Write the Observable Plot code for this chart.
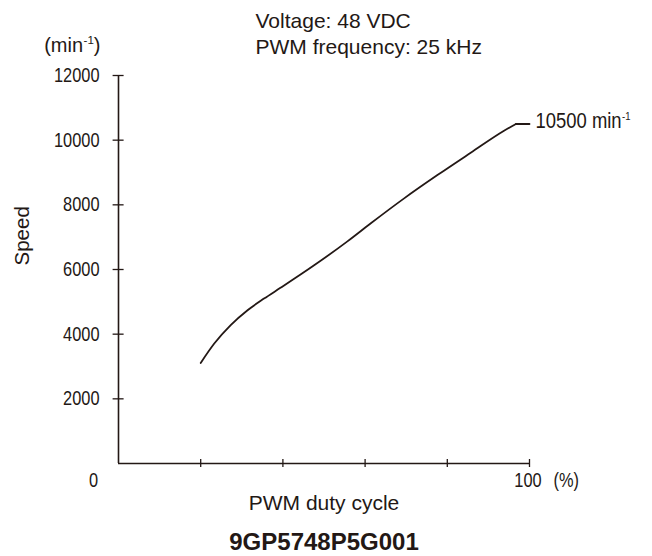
<!DOCTYPE html>
<html><head><meta charset="utf-8">
<script src="https://cdn.jsdelivr.net/npm/d3@7"></script>
<script src="https://cdn.jsdelivr.net/npm/@observablehq/plot@0.6"></script>
<style>
body{margin:0;background:#fff;}
#chart svg{display:block;}
</style>
</head><body>
<div id="chart"></div>
<script>
// ---- data ----
const dutyCycle = [20, 23.3, 27.3, 31.4, 35.4, 39.5, 47.6, 55.7, 61.4, 69.5, 77.6, 85.7, 93.8, 96.7];
const speed     = [3110, 3710, 4280, 4740, 5100, 5440, 6130, 6870, 7430, 8200, 8920, 9610, 10290, 10500];
const yTicks = [2000, 4000, 6000, 8000, 10000, 12000];
const xTicks = [20, 40, 60, 80, 100];
const xDomain = [0, 100];
const yDomain = [0, 12000];
const originLabel = ["0"];
const xEndTick = [100];
const xUnit = ["(%)"];
const yUnit = ["(min-1)"];
const xTitle = ["PWM duty cycle"];
const yTitle = ["Speed"];
const conditions = ["Voltage: 48 VDC\nPWM frequency: 25 kHz"];
const model = ["9GP5748P5G001"];
const maxLabelX = 100;
const maxLabel = ["10500 min-1"];

const ink = "#231815";
const narrow = "'Liberation Sans Narrow', 'Liberation Sans', Arial, sans-serif";
const sans = "'Liberation Sans', Arial, Helvetica, sans-serif";

const curve = dutyCycle.map((d, i) => ({duty: d, speed: speed[i]}));
const last = curve[curve.length - 1];
const leader = [{duty: last.duty, speed: last.speed}, {duty: maxLabelX, speed: last.speed}];

const chart = Plot.plot({
  width: 652,
  height: 556,
  marginLeft: 118,
  marginRight: 123,
  marginTop: 75,
  marginBottom: 93,
  x: {domain: xDomain, axis: null},
  y: {domain: yDomain, axis: null},
  style: {color: ink, background: "#fff", fontFamily: sans},
  marks: [
    // axis lines
    Plot.ruleY([yDomain[0]], {stroke: ink, strokeWidth: 1.6}),
    Plot.ruleX([xDomain[0]], {stroke: ink, strokeWidth: 1.6}),
    // y ticks crossing the axis
    Plot.axisY({ticks: yTicks, tickSize: 11, dx: 5.6, fill: "none", stroke: ink, strokeWidth: 1.3, label: null}),
    // y tick labels
    Plot.axisY({ticks: yTicks, tickSize: 0, tickPadding: 19, stroke: "none", fill: ink, tickFormat: d => String(d),
      fontSize: 20, fontFamily: narrow, label: null}),
    // x ticks crossing the axis
    Plot.axisX({ticks: xTicks, tickSize: 8, dy: -4, fill: "none", stroke: ink, strokeWidth: 1.3, label: null}),
    // x end labels
    Plot.text(originLabel, {x: xDomain[0], y: yDomain[0], text: d => d, dx: -25, dy: 17, fontSize: 20, fontFamily: narrow, fill: ink}),
    Plot.text(xEndTick, {x: d => d, y: yDomain[0], text: d => String(d), dx: -1.5, dy: 17, fontSize: 20, fontFamily: narrow, fill: ink}),
    Plot.text(xUnit, {frameAnchor: "bottom-right", lineAnchor: "middle", text: d => d, textAnchor: "start", dx: 24, dy: 17, fontSize: 20, fontFamily: narrow, fill: ink}),
    // axis titles
    Plot.text(xTitle, {frameAnchor: "bottom", lineAnchor: "middle", text: d => d, dy: 40, fontSize: 21, fill: ink}),
    Plot.text(yTitle, {frameAnchor: "left", lineAnchor: "middle", text: d => d, rotate: -90, dx: -96, dy: -4, fontSize: 20.5, fill: ink}),
    Plot.text(yUnit, {frameAnchor: "top-left", lineAnchor: "middle", text: d => d, textAnchor: "end", dx: -18, dy: -30, fontSize: 20, fill: ink}),
    // conditions
    Plot.text(conditions, {frameAnchor: "top-left", text: d => d, textAnchor: "start", lineAnchor: "middle",
      lineHeight: 1.25, dx: 137, dy: -43, fontSize: 21, fill: ink}),
    // model caption
    Plot.text(model, {frameAnchor: "bottom", lineAnchor: "middle", text: d => d, dy: 79, fontSize: 24, fontWeight: "bold", fill: ink}),
    // curve
    Plot.line(curve, {x: "duty", y: "speed", curve: "monotone-x", stroke: ink, strokeWidth: 1.8}),
    Plot.line(leader, {x: "duty", y: "speed", stroke: ink, strokeWidth: 1.8}),
    Plot.text(maxLabel, {x: maxLabelX, y: last.speed, text: d => d, textAnchor: "start", dx: 6, dy: -3,
      fontSize: 22.5, fontFamily: narrow, fill: ink})
  ]
});

// render "-1" as a superscript
d3.select(chart).selectAll("text").each(function() {
  if (this.children.length) return;
  const s = this.textContent;
  const i = s.indexOf("-1");
  if (i < 0) return;
  const fs = parseFloat(getComputedStyle(this).fontSize) || 20;
  const before = s.slice(0, i), after = s.slice(i + 2);
  const el = d3.select(this);
  el.text(null);
  el.append("tspan").text(before);
  el.append("tspan").attr("font-size", fs * 0.58).attr("dx", 0.5).attr("dy", -fs * 0.4).text("-1");
  if (after) el.append("tspan").attr("dy", fs * 0.4).text(after);
});

document.getElementById("chart").append(chart);

// condensed face: if no narrow font is installed, compress the regular one to narrow proportions
(function() {
  const ctx = document.createElement("canvas").getContext("2d");
  ctx.font = "20px 'Liberation Sans Narrow', monospace";
  const a = ctx.measureText("1234567890").width;
  ctx.font = "20px monospace";
  const b = ctx.measureText("1234567890").width;
  const haveNarrow = Math.abs(a - b) > 0.5;
  if (haveNarrow) return;
  d3.select(chart).selectAll("g").each(function() {
    const ff = this.getAttribute("font-family");
    if (!ff || ff.indexOf("Narrow") < 0) return;
    d3.select(this).selectAll("text").each(function() {
      const tr = this.getAttribute("transform");
      if (tr && !this.getAttribute("x")) {
        this.setAttribute("transform", tr + " scale(0.82,1)");
      } else {
        const len = this.getComputedTextLength();
        if (len > 0) {
          this.setAttribute("textLength", (len * 0.82).toFixed(2));
          this.setAttribute("lengthAdjust", "spacingAndGlyphs");
        }
      }
    });
  });
})();
</script>
</body></html>
